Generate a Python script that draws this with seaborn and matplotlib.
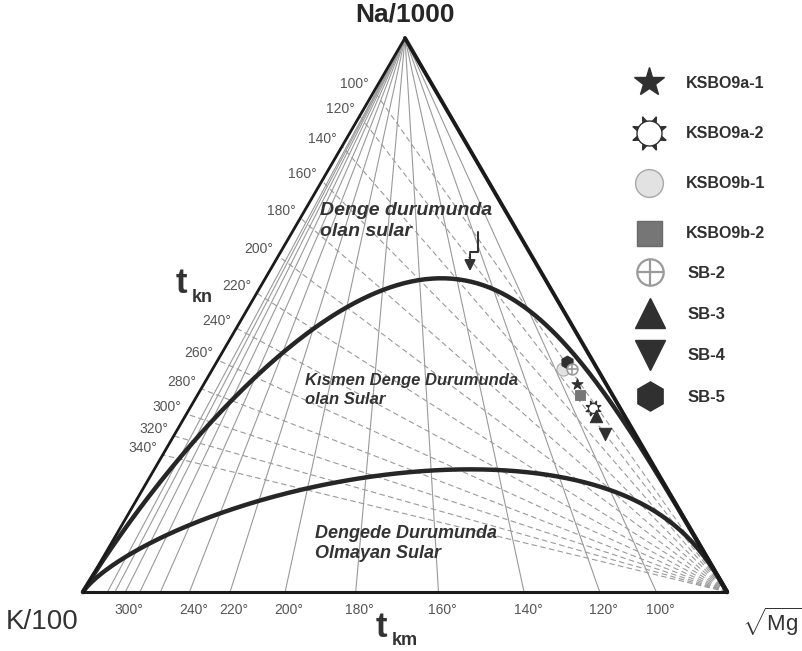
import numpy as np
import pandas as pd
import matplotlib
matplotlib.use("Agg")
import matplotlib.pyplot as plt
import seaborn as sns
from matplotlib.lines import Line2D
from matplotlib.legend_handler import HandlerTuple

# ---- data -------------------------------------------------------------
samples = ["KSBO9a-1", "KSBO9a-2", "KSBO9b-1", "KSBO9b-2",
           "SB-2", "SB-3", "SB-4", "SB-5"]
# relative shares (%) of Na/1000, K/100 and sqrt(Mg)
na_pct = [37.6, 33.2, 40.3, 35.6, 40.3, 31.8, 28.5, 41.5]
k_pct = [4.5, 4.2, 5.3, 5.0, 3.9, 4.4, 4.7, 4.1]
mg_pct = [57.9, 62.6, 54.4, 59.4, 55.8, 63.8, 66.8, 54.4]

tkn_temps = [100, 120, 140, 160, 180, 200, 220, 240, 260, 280, 300, 320, 340]
tkm_temps = [100, 120, 140, 160, 180, 200, 220, 240, 260, 280, 300, 320, 340]
tkm_labelled = [300, 240, 220, 200, 180, 160, 140, 120, 100]

region_labels = [("Denge durumunda", "olan sular"),
                 ("Kısmen Denge Durumunda", "olan Sular"),
                 ("Dengede Durumunda", "Olmayan Sular")]

# ---- style ------------------------------------------------------------
sns.set_theme(style="white")
plt.rcParams["font.family"] = ["Liberation Sans", "DejaVu Sans"]
plt.rcParams["mathtext.fontset"] = "custom"
plt.rcParams["mathtext.rm"] = "Liberation Sans"
plt.rcParams["mathtext.bf"] = "Liberation Sans:bold"

H = 554 / 644  # height of the Na apex


def cart(na, k, mg):
    na, k, mg = (np.asarray(v, float) for v in (na, k, mg))
    s = na + k + mg
    na, mg = na / s, mg / s
    return mg + na / 2, na * H


def P(px, py):
    """Figure pixel position -> data coordinates (layout helper)."""
    return (px - 83) / 644, (592 - py) / 644


# Giggenbach geothermometers
def na_k_ratio(t):  # (Na/1000)/(K/100) on the Na-K side
    return 10 ** (1390 / (t + 273.15) - 1.75 - 1)


def k_mg_ratio(t):  # (K/100)/sqrt(Mg) on the K-Mg side
    return 10 ** ((14 - 4410 / (t + 273.15) - 4) / 2)


fig = plt.figure(figsize=(8.02, 6.51), dpi=100)
ax = fig.add_axes([0, 0, 1, 1])
ax.set_xlim(-83 / 644, 719 / 644)
ax.set_ylim(-59 / 644, 592 / 644)
ax.axis("off")

apex = cart(1, 0, 0)
kv = cart(0, 1, 0)
mgv = cart(0, 0, 1)

# t_kn grid: dashed rays from the Mg corner to the K-Na side
for t in tkn_temps:
    r = na_k_ratio(t)
    ex, ey = cart(r, 1, 0)
    ax.plot([mgv[0], ex], [mgv[1], ey], color="#9a9a9a", lw=0.8,
            ls=(0, (5, 3)), zorder=1)
    ax.annotate(f"{t}°", (ex, ey), xytext=(-5, 7), textcoords="offset pixels",
                ha="right", va="center", fontsize=10, color="#555555")

# t_km grid: solid rays from the Na apex to the K-Mg side
for t in tkm_temps:
    q = k_mg_ratio(t)
    bx, by = cart(0, q, 1)
    ax.plot([apex[0], bx], [apex[1], by], color="#9a9a9a", lw=0.8, zorder=1)
    if t in tkm_labelled:
        ax.annotate(f"{t}°", (bx, by), xytext=(4, -18),
                    textcoords="offset pixels", ha="center", va="center",
                    fontsize=10, color="#555555")

# full and partial equilibrium curves
TK = np.geomspace(200, 6000, 800)
tc = TK - 273.15
a = np.ones_like(TK)
full_na = na_k_ratio(tc)
full_mg = 1 / k_mg_ratio(tc)
L = 14 - 4410 / TK
part_na = 10 ** (2.0 - 0.315 * L - 1)
part_mg = 1 / k_mg_ratio(tc)

for na_c, mg_c in [(full_na, full_mg), (part_na, part_mg)]:
    cx, cy = cart(na_c, a, mg_c)
    cx = np.r_[mgv[0], cx, kv[0]]
    cy = np.r_[mgv[1], cy, kv[1]]
    curve = pd.DataFrame({"x": cx, "y": cy})
    sns.lineplot(data=curve, x="x", y="y", sort=False, estimator=None,
                 color="#262626", lw=3.2, ax=ax, zorder=3)

# triangle frame
ax.plot([kv[0], mgv[0]], [kv[1], mgv[1]], color="#1a1a1a", lw=2.2, zorder=4,
        solid_capstyle="butt")
ax.plot([kv[0], apex[0]], [kv[1], apex[1]], color="#1a1a1a", lw=2.0, zorder=4)
ax.plot([apex[0], mgv[0]], [apex[1], mgv[1]], color="#1a1a1a", lw=2.8, zorder=4)

# samples
sx, sy = cart(na_pct, k_pct, mg_pct)
pts = pd.DataFrame({"sample": samples, "x": sx, "y": sy})


def at(name):
    return pts[pts["sample"] == name]


dark = "#303030"
kw = dict(ax=ax, legend=False, zorder=6)
sns.scatterplot(data=at("KSBO9b-1"), x="x", y="y", marker="o", s=90,
                color="#e2e2e2", edgecolor="#a8a8a8", linewidth=0.8, **kw)
sns.scatterplot(data=at("SB-5"), x="x", y="y", marker="h", s=85,
                color=dark, edgecolor=dark, **kw)
sns.scatterplot(data=at("SB-2"), x="x", y="y", marker="o", s=60,
                color="white", edgecolor="#9a9a9a", linewidth=1.2, **kw)
sns.scatterplot(data=at("SB-2"), x="x", y="y", marker="+", s=60,
                color="#9a9a9a", linewidth=1.2, **kw)
sns.scatterplot(data=at("KSBO9a-1"), x="x", y="y", marker="*", s=70,
                color=dark, edgecolor=dark, **kw)
sns.scatterplot(data=at("KSBO9b-2"), x="x", y="y", marker="s", s=45,
                color="#767676", edgecolor="#6a6a6a", **kw)
sns.scatterplot(data=at("KSBO9a-2"), x="x", y="y", marker=(8, 1, 22.5), s=130,
                color=dark, edgecolor=dark, **kw)
sns.scatterplot(data=at("KSBO9a-2"), x="x", y="y", marker="o", s=50,
                color="white", edgecolor=dark, linewidth=0.8, **kw)
sns.scatterplot(data=at("SB-3"), x="x", y="y", marker="^", s=80,
                color=dark, edgecolor=dark, **kw)
sns.scatterplot(data=at("SB-4"), x="x", y="y", marker="v", s=80,
                color=dark, edgecolor=dark, **kw)

# legends
def mk(marker, ms, fc, ec, mew=1.0):
    return Line2D([], [], ls="", marker=marker, ms=ms, markerfacecolor=fc,
                  markeredgecolor=ec, markeredgewidth=mew)


h_ksbo = [mk("*", 22, dark, dark),
          (mk((8, 1, 22.5), 26, dark, dark), mk("o", 18, "white", dark, 1.0)),
          mk("o", 20, "#e2e2e2", "#a8a8a8"),
          mk("s", 18, "#767676", "#6a6a6a")]
h_sb = [(mk("o", 19, "white", "#9a9a9a", 1.6), mk("+", 19, "#9a9a9a", "#9a9a9a", 1.6)),
        mk("^", 21, dark, dark),
        mk("v", 21, dark, dark),
        mk("h", 21, dark, dark)]

common = dict(frameon=False, loc="upper left", borderpad=0, borderaxespad=0,
              handlelength=2.0, handletextpad=1.3, numpoints=1,
              handler_map={tuple: HandlerTuple(ndivide=1)},
              bbox_transform=fig.transFigure, labelcolor="#303030")
leg1 = ax.legend(h_ksbo, samples[:4],
                 prop={"family": ["Liberation Sans Narrow", "Liberation Sans"],
                       "weight": "bold", "size": 11.5},
                 labelspacing=2.2,
                 bbox_to_anchor=(633 / 802, 1 - 76 / 651), **common)
ax.add_artist(leg1)
leg2 = ax.legend(h_sb, samples[4:],
                 prop={"family": "Liberation Sans", "weight": "bold", "size": 12},
                 labelspacing=1.57,
                 bbox_to_anchor=(633 / 802, 1 - 266 / 651), **common)

# region labels
txt = dict(fontweight="bold", fontstyle="italic", color="#333333", ha="left",
           va="baseline", zorder=7)
for (l1, l2), (px, py1, py2), fs in zip(region_labels,
                                       [(320, 215, 236), (305, 385, 404),
                                        (315, 538, 558)],
                                       [14, 12, 13]):
    ax.text(*P(px, py1), l1, fontsize=fs, **txt)
    ax.text(*P(px, py2), l2, fontsize=fs, **txt)

# stepped arrow pointing to the equilibrium curve
ax.plot([P(478, 232)[0], P(478, 252)[0], P(470, 252)[0]],
        [P(478, 232)[1], P(478, 252)[1], P(470, 252)[1]],
        color="#333333", lw=1.5, zorder=7)
ax.annotate("", xy=P(470, 274), xytext=P(470, 251),
            arrowprops=dict(arrowstyle="-|>", color="#333333", lw=1.5,
                            mutation_scale=16), zorder=7)

# corner and axis titles
ax.text(*P(405, 14), "Na/1000", fontsize=19, fontweight="bold",
        color="#262626", ha="center", va="center")
ax.text(*P(6, 622), "K/100", fontsize=20, color="#333333",
        ha="left", va="center")
ax.text(*P(742, 622), r"$\sqrt{\mathrm{Mg}}$", fontsize=16, color="#333333",
        ha="left", va="center")
ax.text(*P(176, 293), "t", fontsize=25, fontweight="bold", color="#333333",
        ha="left", va="baseline")
ax.text(*P(192, 302), "kn", fontsize=13, fontweight="bold", color="#333333",
        ha="left", va="baseline")
ax.text(*P(376, 637), "t", fontsize=25, fontweight="bold", color="#333333",
        ha="left", va="baseline")
ax.text(*P(392, 645), "km", fontsize=13, fontweight="bold", color="#333333",
        ha="left", va="baseline")

fig.savefig("out.png", dpi=100)
